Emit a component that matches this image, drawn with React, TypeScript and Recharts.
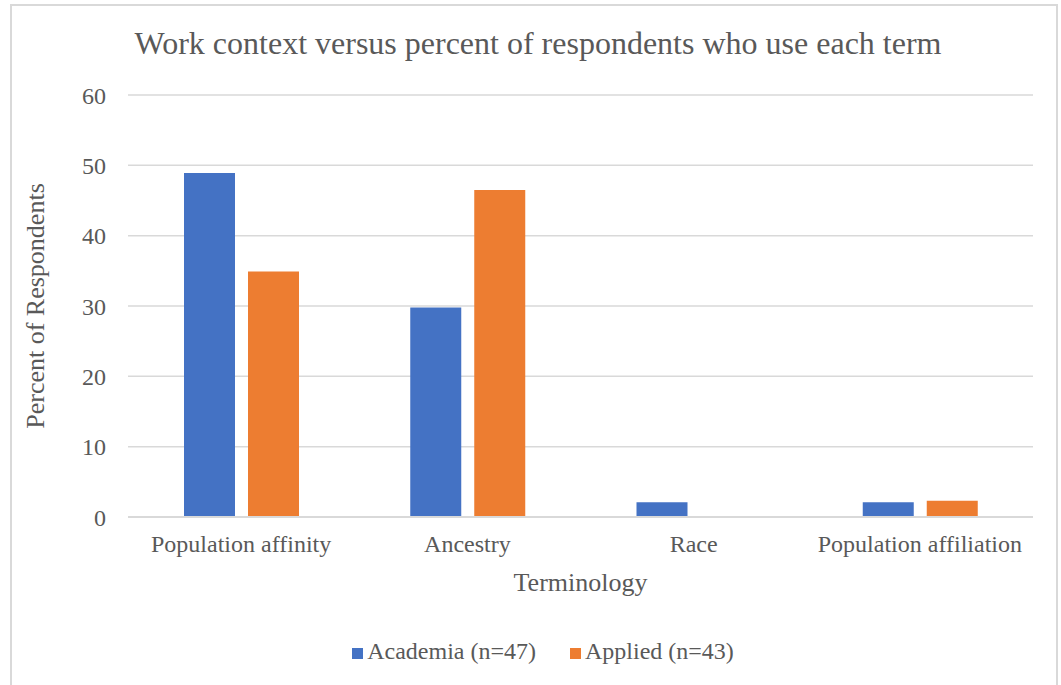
import { BarChart, Bar, XAxis, YAxis, CartesianGrid, Legend } from "recharts";

const terms = ["Population affinity", "Ancestry", "Race", "Population affiliation"];
const academia = [48.9, 29.8, 2.1, 2.1];
const applied = [34.9, 46.5, 0, 2.3];
const yTicks = [0, 10, 20, 30, 40, 50, 60];

const chartData = terms.map((term, i) => ({
  term,
  academia: academia[i],
  applied: applied[i],
}));

const FONT = '"Liberation Serif", "Times New Roman", serif';
const TEXT = "#595959";

export default function App() {
  return (
    <div
      style={{
        position: "absolute",
        left: 0,
        top: 0,
        width: 1061,
        height: 685,
        overflow: "hidden",
        background: "#fff",
        fontFamily: FONT,
      }}
    >
      <div
        style={{
          position: "absolute",
          left: 10,
          top: 4,
          width: 1048,
          height: 700,
          border: "2px solid #d9d9d9",
          boxSizing: "border-box",
        }}
      />
      <div
        style={{
          position: "absolute",
          left: 0,
          width: 1076,
          top: 25,
          textAlign: "center",
          fontSize: 32,
          color: TEXT,
        }}
      >
        Work context versus percent of respondents who use each term
      </div>
      <div style={{ position: "absolute", left: 11, top: 5 }}>
        <BarChart
          width={1047}
          height={680}
          data={chartData}
          margin={{ top: 90, right: 25, left: 0, bottom: 61 }}
          barSize={51}
          barGap={13}
        >
          <CartesianGrid vertical={false} stroke="#d9d9d9" strokeWidth={1.5} />
          <XAxis
            dataKey="term"
            height={80}
            tickLine={false}
            tickSize={0}
            tickMargin={18}
            axisLine={{ stroke: "#d9d9d9", strokeWidth: 2 }}
            tick={{ fill: TEXT, fontSize: 24, fontFamily: FONT }}
            label={{
              value: "Terminology",
              position: "insideBottom",
              offset: 6,
              style: { fill: TEXT, fontSize: 26, fontFamily: FONT },
            }}
          />
          <YAxis
            width={117}
            domain={[0, 60]}
            ticks={yTicks}
            axisLine={false}
            tickLine={false}
            tickSize={0}
            tickMargin={22}
            tick={{ fill: TEXT, fontSize: 24, fontFamily: FONT }}
            label={{
              value: "Percent of Respondents",
              angle: -90,
              position: "insideLeft",
              offset: 24,
              textAnchor: "middle",
              style: { fill: TEXT, fontSize: 26, fontFamily: FONT, textAnchor: "middle" },
            }}
          />
          <Legend
            verticalAlign="bottom"
            iconType="square"
            iconSize={11}
            wrapperStyle={{ bottom: 20, left: 26, fontFamily: FONT, fontSize: 24 }}
            formatter={(value, _entry, index) => (
              <span style={{ color: TEXT, marginRight: index === 0 ? 24 : 0 }}>{value}</span>
            )}
          />
          <Bar
            dataKey="academia"
            name="Academia (n=47)"
            fill="#4472c4"
            isAnimationActive={false}
          />
          <Bar
            dataKey="applied"
            name="Applied (n=43)"
            fill="#ed7d31"
            isAnimationActive={false}
          />
        </BarChart>
      </div>
    </div>
  );
}
